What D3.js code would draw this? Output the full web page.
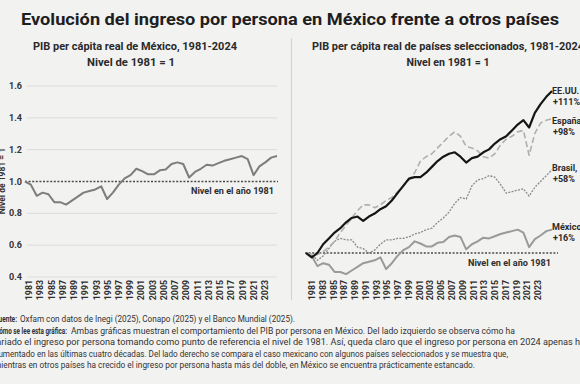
<!DOCTYPE html>
<html>
<head>
<meta charset="utf-8">
<script src="https://cdnjs.cloudflare.com/ajax/libs/d3/7.8.5/d3.min.js"></script>
<style>
  html, body { margin: 0; padding: 0; background: #f2f2f1; }
  svg { display: block; }
</style>
</head>
<body>
<div id="container"></div>
<script>
// data (level of 1981 = 1)
let years = d3.range(1981, 2025);
let tickYears = d3.range(1981, 2024, 2);
let yTicks = [0.4, 0.6, 0.8, 1.0, 1.2, 1.4, 1.6];

let mexico = [1.00, 0.98, 0.91, 0.93, 0.92, 0.87, 0.87, 0.855, 0.88, 0.905, 0.93, 0.94, 0.95, 0.97, 0.89, 0.93,
    0.98, 1.02, 1.04, 1.08, 1.065, 1.045, 1.045, 1.07, 1.075, 1.11, 1.12, 1.11, 1.025, 1.06, 1.08, 1.105,
    1.10, 1.115, 1.13, 1.14, 1.15, 1.16, 1.14, 1.04, 1.095, 1.12, 1.15, 1.16];
let usa = [1.00, 0.97, 1.00, 1.06, 1.10, 1.14, 1.17, 1.21, 1.24, 1.25, 1.22, 1.25, 1.27, 1.30, 1.32, 1.36,
    1.41, 1.46, 1.51, 1.52, 1.52, 1.55, 1.59, 1.63, 1.66, 1.68, 1.69, 1.66, 1.62, 1.65, 1.66, 1.69,
    1.71, 1.75, 1.78, 1.80, 1.84, 1.88, 1.91, 1.86, 1.96, 2.02, 2.07, 2.11];
let spain = [1.00, 0.99, 0.99, 1.01, 1.04, 1.08, 1.14, 1.19, 1.24, 1.29, 1.33, 1.33, 1.31, 1.33, 1.36, 1.38,
    1.42, 1.46, 1.50, 1.55, 1.63, 1.66, 1.68, 1.72, 1.76, 1.80, 1.83, 1.80, 1.73, 1.72, 1.70, 1.66,
    1.65, 1.68, 1.74, 1.78, 1.80, 1.83, 1.84, 1.67, 1.82, 1.89, 1.91, 1.92];
let brazil = [1.00, 0.99, 0.95, 0.98, 1.03, 1.08, 1.10, 1.09, 1.09, 1.04, 1.03, 1.00, 1.02, 1.06, 1.09, 1.09,
    1.10, 1.10, 1.11, 1.13, 1.14, 1.16, 1.17, 1.21, 1.24, 1.28, 1.34, 1.38, 1.37, 1.46, 1.50, 1.51,
    1.53, 1.52, 1.47, 1.41, 1.42, 1.43, 1.44, 1.39, 1.45, 1.49, 1.53, 1.57];

let endLabels = [
    {name: 'EE.UU.', pct: '+111%'},
    {name: 'España', pct: '+98%'},
    {name: 'Brasil,', pct: '+58%'},
    {name: 'México', pct: '+16%'}
];

let w = 580, h = 384;
let font = 'Roboto, "Open Sans", sans-serif';

let viz = d3.select('#container')
    .append('svg')
      .attr('width', w)
      .attr('height', h)
      .style('background', '#f2f2f1')
      .attr('font-family', font);

// title
viz.append('text')
    .attr('x', 21)
    .attr('y', 25)
    .attr('font-size', 17)
    .attr('font-weight', 700)
    .attr('fill', '#1e1e1e')
    .attr('textLength', 538)
    .attr('lengthAdjust', 'spacingAndGlyphs')
    .text('Evolución del ingreso por persona en México frente a otros países');

function subtitle(x, y, len, txt) {
    viz.append('text')
        .attr('x', x)
        .attr('y', y)
        .attr('text-anchor', 'middle')
        .attr('font-size', 10.5)
        .attr('font-weight', 700)
        .attr('fill', '#2a2a2a')
        .attr('textLength', len)
        .attr('lengthAdjust', 'spacingAndGlyphs')
        .text(txt);
}
subtitle(135, 50, 204, 'PIB per cápita real de México, 1981-2024');
subtitle(131, 66, 88, 'Nivel de 1981 = 1');
subtitle(448, 50, 272, 'PIB per cápita real de países seleccionados, 1981-2024');
subtitle(448, 66, 83, 'Nivel en 1981 = 1');

// separator between the two panels
viz.append('line')
    .attr('x1', 291.5).attr('x2', 291.5)
    .attr('y1', 38).attr('y2', 300)
    .style('stroke', '#d4d4d4')
    .style('stroke-width', 1.2);

// ---------- left panel ----------
let xL = d3.scaleLinear().domain([1981, 2024]).range([25, 277]);
// the year labels sit a little tighter than the line itself
let xLt = d3.scaleLinear().domain([1981, 2023]).range([29, 265]);
let yL = d3.scaleLinear().domain([0.4, 1.6]).range([277, 86]);

let left = viz.append('g');

left.append('g')
    .selectAll('line')
    .data(yTicks.filter(d => d !== 1.0))
    .enter().append('line')
      .attr('x1', 27).attr('x2', 277)
      .attr('y1', d => yL(d)).attr('y2', d => yL(d))
      .style('stroke', '#dcdcdc')
      .style('stroke-width', 1);

left.append('g')
    .selectAll('text')
    .data(yTicks)
    .enter().append('text')
      .attr('x', 22)
      .attr('y', d => yL(d))
      .attr('dy', '0.35em')
      .attr('text-anchor', 'end')
      .attr('font-size', 9)
      .attr('font-weight', 700)
      .attr('fill', '#333')
      .text(d => d.toFixed(1));

left.append('text')
    .attr('transform', 'translate(5,181) rotate(-90)')
    .attr('text-anchor', 'middle')
    .attr('font-size', 8.5)
    .attr('font-weight', 700)
    .attr('fill', '#333')
    .text('Nivel de 1981 = 1');

left.append('line')
    .attr('x1', 25).attr('x2', 278)
    .attr('y1', yL(1)).attr('y2', yL(1))
    .style('stroke', '#4a4a4a')
    .style('stroke-width', 1.3)
    .style('stroke-dasharray', '2,1.6');

left.append('text')
    .attr('x', 274)
    .attr('y', 194)
    .attr('text-anchor', 'end')
    .attr('font-size', 9)
    .attr('font-weight', 700)
    .attr('fill', '#2e2e2e')
    .attr('textLength', 83)
    .attr('lengthAdjust', 'spacingAndGlyphs')
    .text('Nivel en el año 1981');

let lineL = d3.line()
    .x((d, i) => xL(years[i]))
    .y(d => yL(d));

left.append('path')
    .datum(mexico)
    .attr('d', lineL)
    .style('fill', 'none')
    .style('stroke', '#7d7d7d')
    .style('stroke-width', 2)
    .style('stroke-linejoin', 'round');

left.append('g')
    .selectAll('text')
    .data(tickYears)
    .enter().append('text')
      .attr('transform', d => 'translate(' + xLt(d) + ',280) rotate(-90)')
      .attr('dy', '0.35em')
      .attr('text-anchor', 'end')
      .attr('font-size', 8.8)
      .attr('font-weight', 700)
      .attr('fill', '#2e2e2e')
      .text(d => d);

// ---------- right panel ----------
let xR = d3.scaleLinear().domain([1981, 2024]).range([306, 552]);
let xRt = d3.scaleLinear().domain([1981, 2023]).range([312, 538]);
let yR = d3.scaleLinear().domain([1, 2.11]).range([253, 91]);

let right = viz.append('g');

right.append('line')
    .attr('x1', 305).attr('x2', 558)
    .attr('y1', yR(1)).attr('y2', yR(1))
    .style('stroke', '#4a4a4a')
    .style('stroke-width', 1.3)
    .style('stroke-dasharray', '2,1.6');

right.append('text')
    .attr('x', 551)
    .attr('y', 265.5)
    .attr('text-anchor', 'end')
    .attr('font-size', 9)
    .attr('font-weight', 700)
    .attr('fill', '#2e2e2e')
    .attr('textLength', 83)
    .attr('lengthAdjust', 'spacingAndGlyphs')
    .text('Nivel en el año 1981');

let lineR = d3.line()
    .x((d, i) => xR(years[i]))
    .y(d => yR(d));

let series = [
    {values: mexico, color: '#9a9a9a', width: 2, dash: null},
    {values: brazil, color: '#8a8a8a', width: 1.3, dash: '2,1.3'},
    {values: spain, color: '#b0b0b0', width: 1.6, dash: '6,3'},
    {values: usa, color: '#151515', width: 2.2, dash: null}
];

right.selectAll('.country')
    .data(series)
    .enter().append('path')
      .attr('class', 'country')
      .attr('d', d => lineR(d.values))
      .style('fill', 'none')
      .style('stroke', d => d.color)
      .style('stroke-width', d => d.width)
      .style('stroke-dasharray', d => d.dash)
      .style('stroke-linejoin', 'round');

let labelY = [94, 124, 171, 230];
let labels = right.append('g')
    .attr('font-size', 9)
    .attr('font-weight', 700)
    .attr('fill', '#2a2a2a');
endLabels.forEach((d, i) => {
    labels.append('text')
        .attr('x', 552)
        .attr('y', labelY[i])
        .text(d.name);
    labels.append('text')
        .attr('x', 553)
        .attr('y', labelY[i] + 11)
        .text(d.pct);
});

right.append('g')
    .selectAll('text')
    .data(tickYears)
    .enter().append('text')
      .attr('transform', d => 'translate(' + xRt(d) + ',280) rotate(-90)')
      .attr('dy', '0.35em')
      .attr('text-anchor', 'end')
      .attr('font-size', 8.8)
      .attr('font-weight', 700)
      .attr('fill', '#2e2e2e')
      .text(d => d);

// ---------- notes at the bottom ----------
let notes = [
    {y: 322, bold: 'Fuente:', bx: -5, blen: 22, rest: 'Oxfam con datos de Inegi (2025), Conapo (2025) y el Banco Mundial (2025).', rx: 20, rlen: 275},
    {y: 333.5, bold: 'Cómo se lee esta gráfica:', bx: -5, blen: 72, rest: 'Ambas gráficas muestran el comportamiento del PIB por persona en México. Del lado izquierdo se observa cómo ha', rx: 71, rlen: 444},
    {y: 345, bold: '', rest: 'variado el ingreso por persona tomando como punto de referencia el nivel de 1981. Así, queda claro que el ingreso por persona en 2024 apenas ha', rx: -8, rlen: 593},
    {y: 356.5, bold: '', rest: 'aumentado en las últimas cuatro décadas. Del lado derecho se compara el caso mexicano con algunos países seleccionados y se muestra que,', rx: -6, rlen: 514},
    {y: 368, bold: '', rest: 'mientras en otros países ha crecido el ingreso por persona hasta más del doble, en México se encuentra prácticamente estancado.', rx: -6, rlen: 481}
];

let noteG = viz.append('g')
    .attr('font-size', 9.2)
    .attr('fill', '#333');

notes.forEach(n => {
    if (n.bold) {
        noteG.append('text')
            .attr('x', n.bx).attr('y', n.y)
            .attr('font-weight', 700)
            .attr('textLength', n.blen)
            .attr('lengthAdjust', 'spacingAndGlyphs')
            .text(n.bold);
    }
    noteG.append('text')
        .attr('x', n.rx).attr('y', n.y)
        .attr('textLength', n.rlen)
        .attr('lengthAdjust', 'spacingAndGlyphs')
        .text(n.rest);
});
</script>
</body>
</html>
